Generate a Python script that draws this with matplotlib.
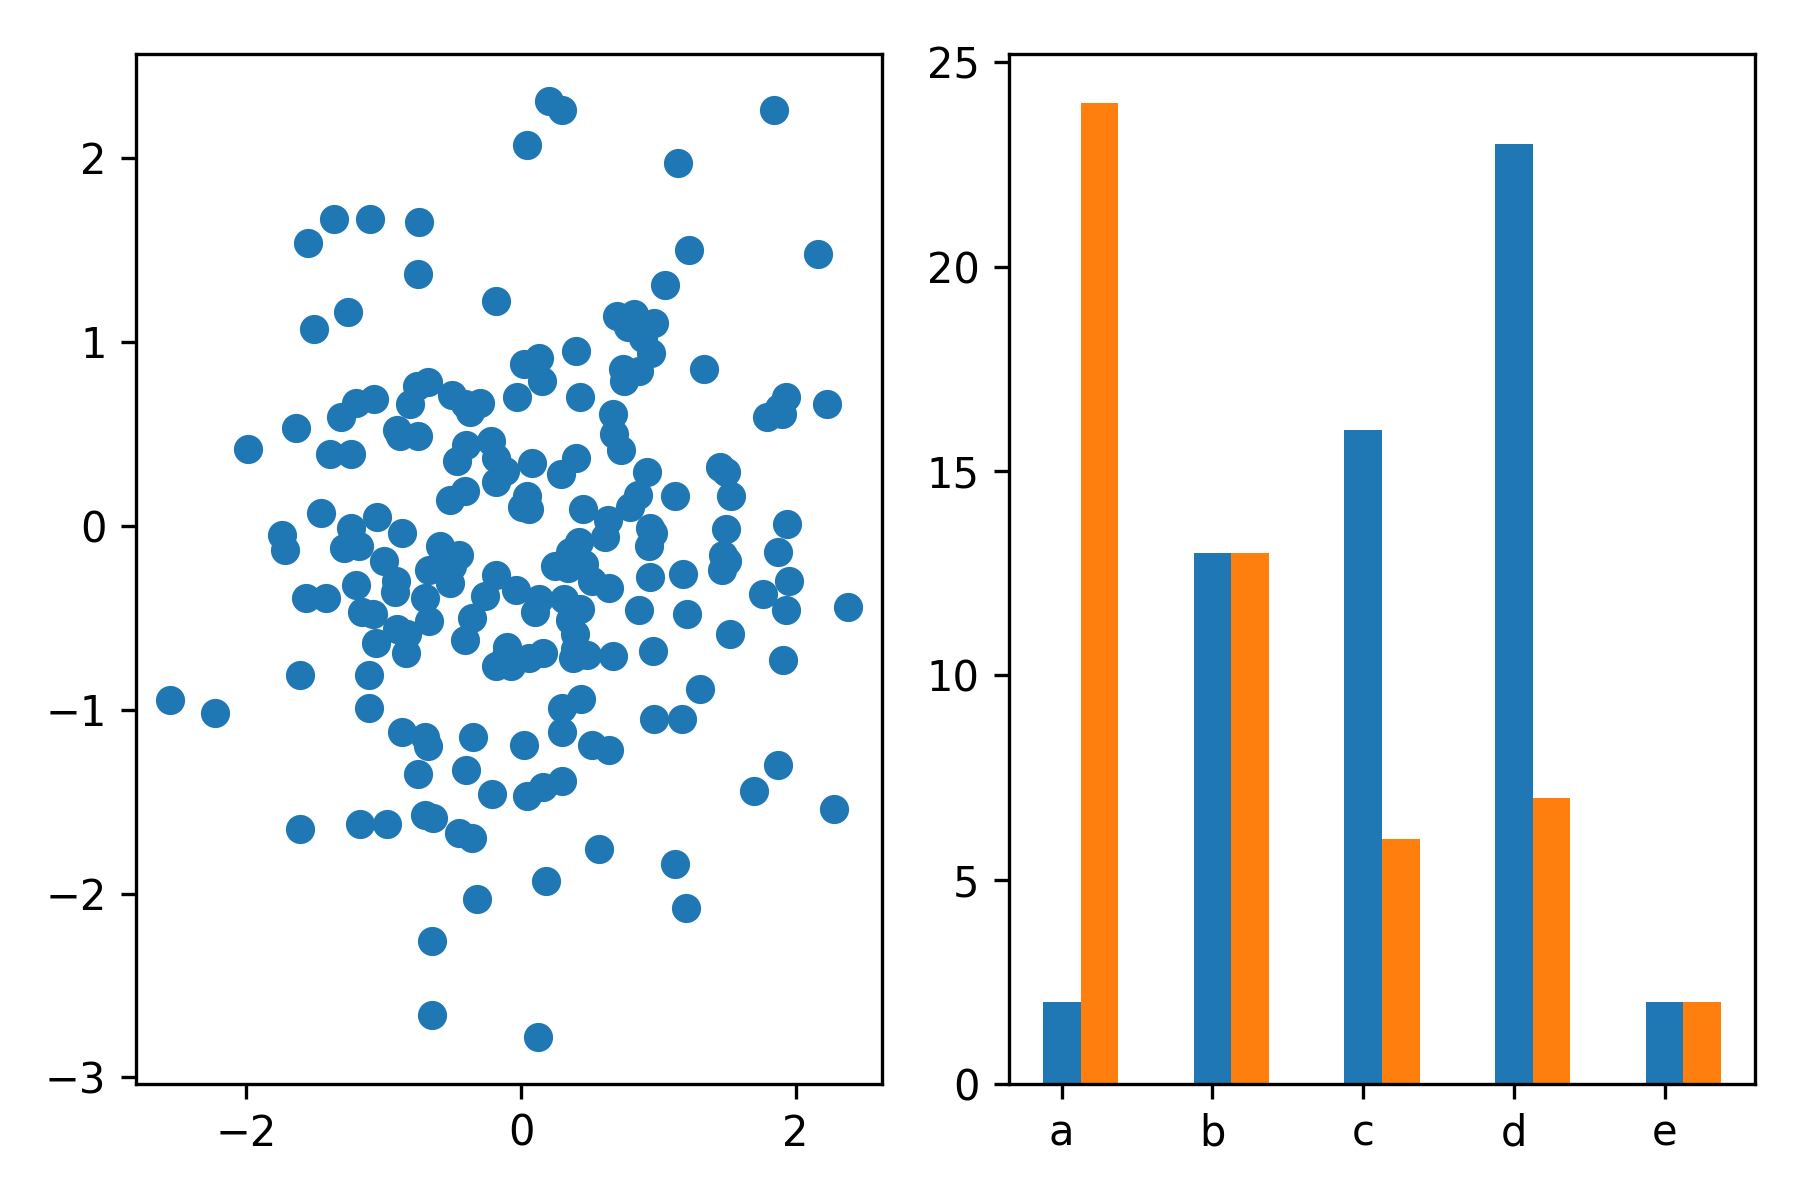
import numpy as np
import matplotlib
matplotlib.use("Agg")
from matplotlib import pyplot as plt

# scatter points
scatter_x = [0.20, 0.30, 1.84, 0.04, 1.14, -1.36, -1.10, -0.74, -1.55, 1.22,
             2.16, -0.75, 1.05, -0.18, -1.26, -1.51, 0.70, 0.82, 0.78, 0.97,
             0.89, 0.95, 0.40, 0.13, 0.02, 0.15, 0.74, 0.86, 0.75, 1.33,
             -0.76, -0.68, -1.07, -1.20, -0.81, -0.50, -0.41, -0.30, -0.37, -0.03,
             0.43, -1.31, 2.23, 1.93, 1.88, 1.90, 1.79, 0.67, 0.68, 0.73,
             -1.64, -1.99, -1.39, -1.24, -0.90, -0.88, -0.75, -0.40, -0.22, -0.18,
             -0.47, -0.12, -0.18, 0.08, 0.29, 0.40, 0.92, 1.45, 1.49, 1.53,
             1.12, 0.85, 0.79, -0.52, -0.41, 0.04, 0.01, 0.06, 0.45, 0.63,
             0.61, 0.94, 0.96, 0.93, -1.46, -1.05, -1.74, -1.72, -1.24, -1.29,
             -1.18, -0.87, -0.59, -0.45, -0.50, -0.67, -0.52, -1.00, -0.91, -0.92,
             -1.20, -1.57, -1.42, -1.16, -1.08, -1.06, -0.70, -0.67, -0.83, -0.90,
             -0.84, -0.36, -0.41, -0.26, -0.18, -0.04, 0.25, 0.36, 0.42, 0.34,
             0.46, 0.52, 0.64, 1.18, 0.94, 1.47, 1.50, 1.46, 1.49, 1.94,
             1.87, 1.95, 1.76, 1.93, 2.38, 1.91, 0.13, 0.10, 0.31, 0.43,
             0.36, 0.39, 0.39, 0.48, 0.38, 0.67, 0.86, 0.96, 1.21, 1.52,
             -0.10, -0.11, -0.18, -0.07, 0.06, 0.16, -1.61, -1.11, -2.56, -2.23,
             -1.11, -0.87, -0.70, -0.68, -0.35, 0.02, 0.30, 0.44, 0.30, 0.52,
             0.64, 0.97, 1.17, 1.30, 1.87, 1.70, 2.28, -0.75, -0.40, -0.21,
             0.04, 0.16, 0.30, -1.61, -1.17, -0.98, -0.70, -0.64, -0.45, -0.36,
             0.57, 1.12, 0.18, -0.32, 1.20, -0.65, -0.65, 0.12]
scatter_y = [2.31, 2.26, 2.26, 2.07, 1.97, 1.67, 1.67, 1.65, 1.54, 1.50,
             1.48, 1.37, 1.31, 1.22, 1.16, 1.07, 1.14, 1.15, 1.08, 1.10,
             1.02, 0.94, 0.95, 0.91, 0.88, 0.79, 0.85, 0.84, 0.79, 0.85,
             0.76, 0.78, 0.69, 0.67, 0.66, 0.71, 0.66, 0.67, 0.62, 0.70,
             0.70, 0.59, 0.66, 0.70, 0.64, 0.61, 0.59, 0.61, 0.50, 0.41,
             0.53, 0.42, 0.39, 0.39, 0.52, 0.49, 0.49, 0.44, 0.46, 0.37,
             0.35, 0.30, 0.24, 0.34, 0.28, 0.37, 0.29, 0.32, 0.29, 0.16,
             0.16, 0.17, 0.10, 0.14, 0.19, 0.16, 0.10, 0.09, 0.09, 0.03,
             -0.06, -0.01, -0.04, -0.11, 0.07, 0.05, -0.05, -0.13, -0.01, -0.12,
             -0.11, -0.04, -0.11, -0.16, -0.22, -0.24, -0.31, -0.19, -0.30, -0.36,
             -0.32, -0.39, -0.39, -0.47, -0.48, -0.64, -0.39, -0.52, -0.59, -0.56,
             -0.69, -0.50, -0.62, -0.38, -0.27, -0.35, -0.22, -0.14, -0.09, -0.23,
             -0.21, -0.30, -0.34, -0.26, -0.28, -0.16, -0.19, -0.24, -0.02, 0.01,
             -0.14, -0.30, -0.37, -0.46, -0.44, -0.73, -0.40, -0.47, -0.40, -0.45,
             -0.51, -0.59, -0.67, -0.70, -0.72, -0.71, -0.46, -0.68, -0.48, -0.59,
             -0.66, -0.71, -0.76, -0.76, -0.72, -0.69, -0.81, -0.81, -0.95, -1.02,
             -0.99, -1.12, -1.15, -1.20, -1.15, -1.19, -0.99, -0.94, -1.12, -1.19,
             -1.22, -1.05, -1.05, -0.89, -1.30, -1.44, -1.54, -1.35, -1.33, -1.46,
             -1.47, -1.42, -1.39, -1.65, -1.62, -1.62, -1.57, -1.59, -1.67, -1.70,
             -1.76, -1.84, -1.93, -2.03, -2.08, -2.26, -2.66, -2.78]

# bar chart
categories = ['a', 'b', 'c', 'd', 'e']
blue_vals = [2, 13, 16, 23, 2]
orange_vals = [24, 13, 6, 7, 2]

fig, (ax1, ax2) = plt.subplots(1, 2, figsize=(6, 4), dpi=300)

ax1.scatter(scatter_x, scatter_y)

x = np.arange(len(categories))
width = 0.25
ax2.bar(x, blue_vals, width)
ax2.bar(x + width, orange_vals, width)
ax2.set_xticks(x)
ax2.set_xticklabels(categories)

fig.tight_layout()
fig.savefig("out.png")
